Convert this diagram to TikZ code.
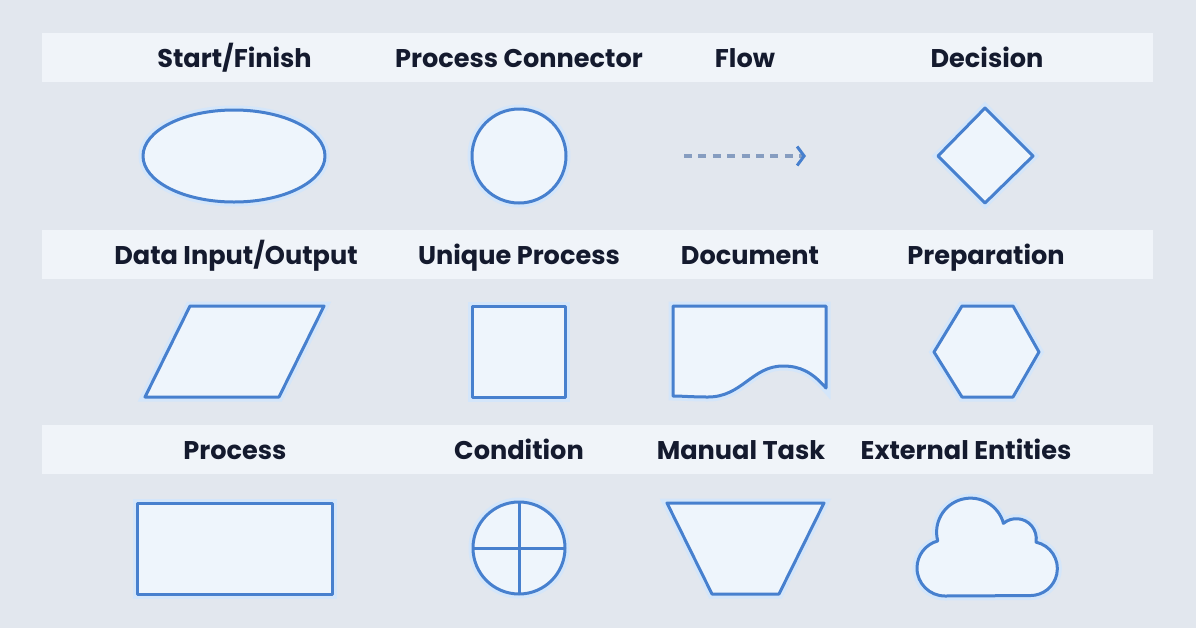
\documentclass[tikz,border=0pt]{standalone}
\usepackage{fontspec}
\setmainfont{Poppins}
\usepackage{tikz}
\usetikzlibrary{arrows.meta}

\definecolor{pagebg}{HTML}{E2E7EE}
\definecolor{bandbg}{HTML}{F0F4F9}
\definecolor{inkblue}{HTML}{4780CE}
\definecolor{halo}{HTML}{D4E6FA}
\definecolor{shapefill}{HTML}{EEF5FC}
\definecolor{headtext}{HTML}{141A2E}
\definecolor{dashgrey}{HTML}{869DC0}

\begin{document}
\begin{tikzpicture}[x=0.5pt,y=0.5pt,
    band/.style={fill=bandbg,draw=none},
    heading/.style={anchor=base,text=headtext,font=\fontsize{12.8}{15}\selectfont\bfseries,inner sep=0pt},
    symbol/.style={draw=inkblue,line width=1.5pt,fill=shapefill,line join=round,
      preaction={draw=halo,line width=4.5pt}},
  ]
    \useasboundingbox (0,0) rectangle (1196,-628);
    \fill [pagebg] (0,0) rectangle (1196,-628);

    % header bands
    \fill [band] (42,-33) rectangle (1153,-82);
    \fill [band] (42,-230) rectangle (1153,-279);
    \fill [band] (42,-425) rectangle (1153,-474);

    % row 1
    \node [heading] (startfinish) at (234.5,-67) {Start/Finish};
    \node [heading] (procconn)    at (519,-67)   {Process Connector};
    \node [heading] (flow)        at (745,-67)   {Flow};
    \node [heading] (decision)    at (987,-67)   {Decision};

    \draw [symbol] (234,-156) ellipse [x radius=91, y radius=46];
    \draw [symbol] (519,-156) circle [radius=47];
    \coordinate (flow tail) at (684,-156);
    \coordinate (flow head) at (806,-156);
    \draw [dashgrey,line width=1.6pt,dash pattern=on 4pt off 3.2pt,
      -{Straight Barb[length=3.5pt,width=9.5pt,color=inkblue,line width=1.5pt]}]
      (flow tail) -- (flow head);
    \draw [symbol] (985,-108) -- (1033,-156) -- (985,-203) -- (938,-156) -- cycle;

    % row 2
    \node [heading] (datainout) at (236,-264) {Data Input/Output};
    \node [heading] (uniqproc)  at (519,-264) {Unique Process};
    \node [heading] (document)  at (750,-264) {Document};
    \node [heading] (prep)      at (986,-264) {Preparation};

    \draw [symbol] (190,-306) -- (324,-306) -- (279,-397) -- (145,-397) -- cycle;
    \draw [symbol] (472,-306) rectangle (565,-397);
    \draw [symbol] (673,-306) -- (826,-306) -- (826,-388)
      .. controls (812,-372) and (800,-366) .. (783,-366)
      .. controls (752,-366) and (742,-397) .. (708,-397)
      .. controls (692,-397) and (682,-396) .. (673,-396) -- cycle;
    \draw [symbol] (962,-306) -- (1013,-306) -- (1039,-352) -- (1013,-397)
      -- (962,-397) -- (934,-352) -- cycle;

    % row 3
    \node [heading] (process)   at (235,-459) {Process};
    \node [heading] (condition) at (519,-459) {Condition};
    \node [heading] (manual)    at (741,-459) {Manual Task};
    \node [heading] (external)  at (966,-459) {External Entities};

    \draw [symbol] (137,-503) rectangle (332,-594);
    \draw [symbol] (519,-548) circle [radius=46];
    \draw [inkblue,line width=1.5pt] (473,-548) -- (565,-548);
    \draw [inkblue,line width=1.5pt] (519,-502) -- (519,-594);
    \draw [symbol] (667,-503) -- (824,-503) -- (779,-594) -- (712,-594) -- cycle;
    \draw [symbol] (945,-596)
      arc [start angle=270, end angle=105, radius=28]
      arc [start angle=195, end angle=15, radius=34]
      arc [start angle=130, end angle=-10, radius=20]
      arc [start angle=78, end angle=-90, radius=27]
      -- cycle;

\end{tikzpicture}
\end{document}
